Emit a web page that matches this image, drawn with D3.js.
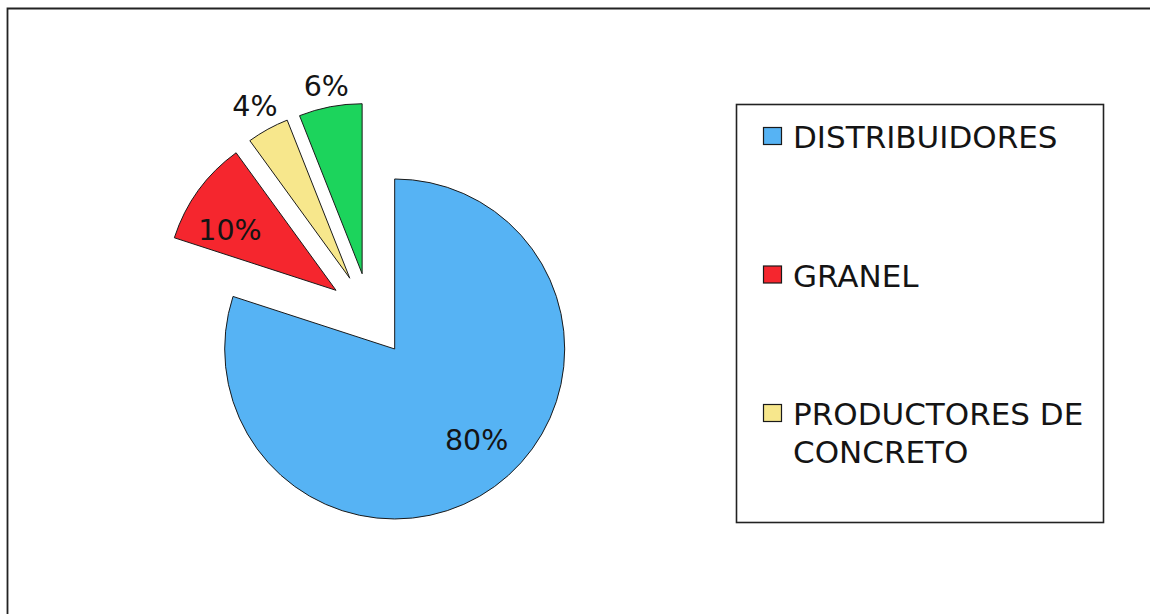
<!DOCTYPE html>
<html>
<head>
<meta charset="utf-8">
<script src="https://cdn.jsdelivr.net/npm/d3@7"></script>
<style>
  html, body { margin: 0; padding: 0; background: #ffffff; }
  svg { display: block; }
</style>
</head>
<body>
<svg id="chart" width="1150" height="614"></svg>
<script>
// ---- data ----
const categories = ["DISTRIBUIDORES", "GRANEL", "PRODUCTORES DE CONCRETO", "OTROS"];
const values = [80, 10, 4, 6];
const colors = ["#56b3f4", "#f5262e", "#f7e78c", "#1cd45c"];
const legendCategories = ["DISTRIBUIDORES", "GRANEL", "PRODUCTORES DE CONCRETO"];

// ---- layout ----
const W = 1150, H = 614;
const svg = d3.select("#chart");
const font = "'DejaVu Sans', Verdana, sans-serif";
const textColor = "#141414";

// outer frame (only top and left edges visible)
svg.append("path")
  .attr("d", `M7.5,${H + 5} L7.5,8.5 L${W + 5},8.5`)
  .attr("fill", "none")
  .attr("stroke", "#222")
  .attr("stroke-width", 1.8);

const cx = 370, cy = 315, R = 170, explode = 42;

const data = categories.map((c, i) => ({ name: c, value: values[i], color: colors[i] }));
const pie = d3.pie().value(d => d.value).sort(null).startAngle(0).endAngle(2 * Math.PI);
const arcs = pie(data);
const arc = d3.arc().innerRadius(0).outerRadius(R);

const g = svg.append("g").attr("transform", `translate(${cx},${cy})`);

function offset(d) {
  const m = (d.startAngle + d.endAngle) / 2;
  return [explode * Math.sin(m), -explode * Math.cos(m)];
}

const slices = g.selectAll("g.slice")
  .data(arcs)
  .join("g")
  .attr("class", "slice")
  .attr("transform", d => { const o = offset(d); return `translate(${o[0]},${o[1]})`; });

slices.append("path")
  .attr("d", arc)
  .attr("fill", d => d.data.color)
  .attr("stroke", "#1a1a1a")
  .attr("stroke-width", 1)
  .attr("stroke-linejoin", "miter");

// labels
const labelSize = 28.5;
const capH = 0.729 * labelSize;
const insideRotate = -6 * Math.PI / 180;
slices.append("text")
  .attr("font-family", font)
  .attr("font-size", labelSize)
  .attr("fill", textColor)
  .attr("text-anchor", "middle")
  .text(d => d.data.value + "%")
  .each(function (d) {
    let m = (d.startAngle + d.endAngle) / 2;
    let dist;
    if (d.data.value >= 10) {
      m += insideRotate;
      dist = R * 0.72;
    } else {
      const s0 = Math.sin(m), c0 = Math.cos(m);
      const w = this.getComputedTextLength();
      dist = R + 7 + (capH / 2) * Math.abs(c0) + (w / 2) * Math.abs(s0);
    }
    const s = Math.sin(m), c = -Math.cos(m);
    d3.select(this).attr("x", dist * s).attr("y", dist * c + capH / 2);
  });

// ---- legend ----
const lgX = 736.5, lgY = 104.5, lgW = 367, lgH = 418;
svg.append("rect")
  .attr("x", lgX).attr("y", lgY)
  .attr("width", lgW).attr("height", lgH)
  .attr("fill", "#ffffff")
  .attr("stroke", "#222")
  .attr("stroke-width", 1.6);

const legendSize = 31;
const lineH = 38;
const yScale = d3.scalePoint()
  .domain(legendCategories)
  .range([148, 425]);
const colorOf = d3.scaleOrdinal().domain(categories).range(colors);

const items = svg.selectAll("g.legend-item")
  .data(legendCategories)
  .join("g")
  .attr("class", "legend-item")
  .attr("transform", d => `translate(0,${yScale(d)})`);

items.append("rect")
  .attr("x", 763.5)
  .attr("y", -20.5)
  .attr("width", 18)
  .attr("height", 17)
  .attr("fill", d => colorOf(d))
  .attr("stroke", "#1a1a1a")
  .attr("stroke-width", 1.2);

items.append("text")
  .attr("x", 793)
  .attr("y", 0)
  .attr("font-family", font)
  .attr("font-size", legendSize)
  .attr("fill", textColor)
  .each(function (d) {
    const t = d3.select(this);
    const words = d.split(" ");
    const maxW = 300;
    let line = [];
    let ts = t.append("tspan").attr("x", 793).attr("dy", 0);
    words.forEach(w => {
      line.push(w);
      ts.text(line.join(" "));
      if (ts.node().getComputedTextLength() > maxW && line.length > 1) {
        line.pop();
        ts.text(line.join(" "));
        line = [w];
        ts = t.append("tspan").attr("x", 793).attr("dy", lineH).text(w);
      }
    });
  });
</script>
</body>
</html>
